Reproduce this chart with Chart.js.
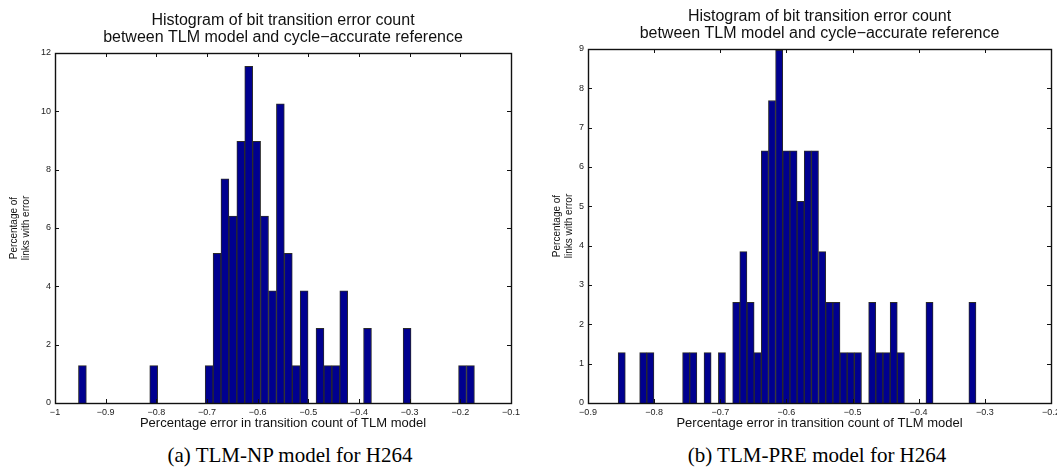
<!DOCTYPE html>
<html>
<head>
<meta charset="utf-8">
<script src="https://cdn.jsdelivr.net/npm/chart.js@4"></script>
<style>
  body { margin: 0; background: #fff; width: 1057px; height: 474px; position: relative; overflow: hidden; }
  .box { position: absolute; top: 0; }
  .cap { position: absolute; font-family: "Liberation Serif", serif; font-size: 21px; color: #000; white-space: nowrap; transform: translate(-50%, -50%); }
</style>
</head>
<body>
<div class="box" style="left:0"><canvas id="npChart" width="530" height="440"></canvas></div>
<div class="box" style="left:530px"><canvas id="preChart" width="540" height="440"></canvas></div>
<div class="cap" style="left:290px; top:455px">(a) TLM-NP model for H264</div>
<div class="cap" style="left:817px; top:455px">(b) TLM-PRE model for H264</div>
<script>
// bin centres (only non-empty bins) and percentage of links per bin
const npBins = [-0.9459, -0.8052, -0.6958, -0.6802, -0.6646, -0.6489, -0.6333, -0.6177, -0.6020, -0.5864, -0.5708, -0.5552,
    -0.5395, -0.5239, -0.5083, -0.4770, -0.4614, -0.4457, -0.4301, -0.3832, -0.3051, -0.1957, -0.1800];
const npPct = [1.28, 1.28, 1.28, 5.13, 7.69, 6.41, 8.97, 11.54, 8.97, 6.41, 3.85, 10.26,
    5.13, 1.28, 3.85, 2.56, 1.28, 1.28, 3.85, 2.56, 2.56, 1.28, 1.28];

const preBins = [-0.8490, -0.8165, -0.8057, -0.7516, -0.7408, -0.7192, -0.6975, -0.6759, -0.6651, -0.6542, -0.6434,
    -0.6326, -0.6218, -0.6110, -0.6001, -0.5893, -0.5785, -0.5677, -0.5569, -0.5460, -0.5352, -0.5244, -0.5136,
    -0.5028, -0.4919, -0.4703, -0.4595, -0.4487, -0.4378, -0.4270, -0.3837, -0.3188];
const prePct = [1.28, 1.28, 1.28, 1.28, 1.28, 1.28, 1.28, 2.56, 3.85, 2.56, 1.28,
    6.41, 7.69, 8.97, 6.41, 6.41, 5.13, 6.41, 6.41, 3.85, 2.56, 2.56, 1.28,
    1.28, 1.28, 2.56, 1.28, 1.28, 2.56, 1.28, 2.56, 2.56];

const titleLines = ["Histogram of bit transition error count", "between TLM model and cycle\u2212accurate reference"];
const xTitle = "Percentage error in transition count of TLM model";
const yTitle = ["Percentage of", "links with error"];

// matlab style box with inward ticks on all four sides
const frame = {
    id: "frame",
    afterDraw(chart) {
        const ctx = chart.ctx;
        const a = chart.chartArea;
        const x = chart.scales.x, y = chart.scales.y;
        ctx.save();
        ctx.strokeStyle = "#111";
        ctx.lineWidth = 1;
        ctx.beginPath();
        x.ticks.forEach(function (t) {
            let px = Math.round(x.getPixelForValue(t.value)) + 0.5;
            ctx.moveTo(px, a.bottom); ctx.lineTo(px, a.bottom - 4);
            ctx.moveTo(px, a.top); ctx.lineTo(px, a.top + 4);
        });
        y.ticks.forEach(function (t) {
            let py = Math.round(y.getPixelForValue(t.value)) + 0.5;
            ctx.moveTo(a.left, py); ctx.lineTo(a.left + 4, py);
            ctx.moveTo(a.right, py); ctx.lineTo(a.right - 4, py);
        });
        ctx.stroke();
        ctx.lineWidth = 1.4;
        ctx.strokeRect(Math.round(a.left) + 0.5, Math.round(a.top) + 0.5, Math.round(a.width), Math.round(a.height));
        ctx.restore();
    }
};

function fmt(v) {
    let r = Math.round(v * 10) / 10;
    return String(r).replace("-", "\u2212");
}

function makeChart(id, bins, pct, opt) {
    new Chart(document.getElementById(id), {
        type: "bar",
        data: {
            datasets: [{
                data: bins.map((b, i) => ({ x: b, y: pct[i] })),
                backgroundColor: "#00008f",
                borderColor: "#2a2a2a",
                borderWidth: 1,
                barPercentage: 1,
                categoryPercentage: 1,
            }],
        },
        options: {
            responsive: false,
            animation: false,
            devicePixelRatio: 1,
            layout: { padding: { left: 0, right: opt.padRight, top: 0, bottom: 0 } },
            plugins: {
                legend: { display: false },
                tooltip: { enabled: false },
                title: {
                    display: true,
                    fullSize: false, // centre over the plot box like matlab
                    text: titleLines,
                    color: "#111",
                    font: { family: "Liberation Sans", size: 16, weight: "normal", lineHeight: 1.05 },
                    padding: { top: opt.titleTop, bottom: opt.titleBottom },
                },
            },
            scales: {
                x: {
                    type: "linear",
                    offset: false,
                    min: opt.xMin,
                    max: opt.xMax,
                    grid: { display: false, drawTicks: false, offset: false },
                    border: { display: false },
                    ticks: {
                        stepSize: 0.1,
                        maxRotation: 0,
                        padding: 4,
                        color: "#222",
                        font: { family: "Liberation Sans", size: 9 },
                        callback: fmt,
                    },
                    title: {
                        display: true,
                        text: xTitle,
                        color: "#111",
                        font: { family: "Liberation Sans", size: 13, lineHeight: 1.2 },
                        padding: { top: 0, bottom: 9 },
                    },
                    afterFit: function (s) { s.height = 37; },
                },
                y: {
                    min: 0,
                    max: opt.yMax,
                    grid: { display: false, drawTicks: false },
                    border: { display: false },
                    ticks: {
                        stepSize: opt.yStep,
                        padding: 4,
                        color: "#222",
                        font: { family: "Liberation Sans", size: 9 },
                    },
                    title: {
                        display: true,
                        text: yTitle,
                        color: "#111",
                        font: { family: "Liberation Sans", size: 10, lineHeight: 1.2 },
                        padding: { top: opt.yTitlePad, bottom: 0 },
                    },
                    afterFit: function (s) { s.width = opt.yWidth; },
                },
            },
        },
        plugins: [frame],
    });
}

makeChart("npChart", npBins, npPct, {
    xMin: -1, xMax: -0.1, yMax: 12, yStep: 2,
    yWidth: 55, padRight: 19, titleTop: 12.6, titleBottom: 6.8, yTitlePad: 8,
});
makeChart("preChart", preBins, prePct, {
    xMin: -0.9, xMax: -0.2, yMax: 9, yStep: 1,
    yWidth: 58, padRight: 19, titleTop: 8.6, titleBottom: 6.8, yTitlePad: 21,
});
</script>
</body>
</html>
